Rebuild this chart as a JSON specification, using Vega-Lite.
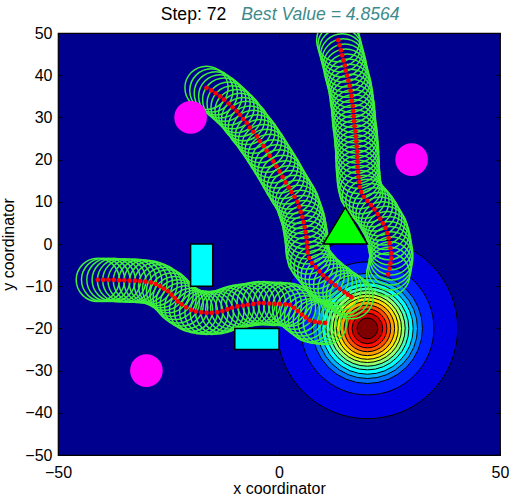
{
  "$schema": "https://vega.github.io/schema/vega-lite/v6.json",
  "width": 442,
  "height": 422,
  "autosize": {"type": "none"},
  "padding": {"left": 58, "top": 33, "right": 9, "bottom": 44},
  "background": "white",
  "config": {
    "view": {"stroke": "black", "strokeWidth": 1.2, "fill": "#00008F"},
    "axis": {"labelFont": "Liberation Sans", "labelFontSize": 16, "titleFont": "Liberation Sans", "titleFontSize": 16, "titleFontWeight": "normal", "labelColor": "black", "titleColor": "black", "tickColor": "black", "domain": false, "grid": false, "tickSize": -4, "labelFlush": false, "labelOverlap": false}
  },
  "datasets": {
    "contour": [
      {"level": 1, "x": 20, "y": -20, "r": 20.9},
      {"level": 2, "x": 20, "y": -20, "r": 15.4},
      {"level": 3, "x": 20, "y": -20, "r": 12.75},
      {"level": 4, "x": 20, "y": -20, "r": 11.6},
      {"level": 5, "x": 20, "y": -20, "r": 10.6},
      {"level": 6, "x": 20, "y": -20, "r": 9.6},
      {"level": 7, "x": 20, "y": -20, "r": 8.75},
      {"level": 8, "x": 20, "y": -20, "r": 7.9},
      {"level": 9, "x": 20, "y": -20, "r": 7.15},
      {"level": 10, "x": 20, "y": -20, "r": 6.3},
      {"level": 11, "x": 20, "y": -20, "r": 5.4},
      {"level": 12, "x": 20, "y": -20, "r": 4.5},
      {"level": 13, "x": 20, "y": -20, "r": 3.55},
      {"level": 14, "x": 20, "y": -20, "r": 2.4}
    ],
    "path": [
      {"robot": 1, "x": -41.0, "y": -8.5}, {"robot": 1, "x": -39.8, "y": -8.5}, {"robot": 1, "x": -38.6, "y": -8.5}, {"robot": 1, "x": -37.4, "y": -8.5},
      {"robot": 1, "x": -36.2, "y": -8.6}, {"robot": 1, "x": -35.0, "y": -8.6}, {"robot": 1, "x": -33.8, "y": -8.7}, {"robot": 1, "x": -32.6, "y": -8.7},
      {"robot": 1, "x": -31.4, "y": -8.8}, {"robot": 1, "x": -30.2, "y": -8.9}, {"robot": 1, "x": -29.0, "y": -9.1}, {"robot": 1, "x": -27.9, "y": -9.5},
      {"robot": 1, "x": -26.9, "y": -10.0}, {"robot": 1, "x": -26.0, "y": -10.6}, {"robot": 1, "x": -25.1, "y": -11.2}, {"robot": 1, "x": -24.3, "y": -12.0},
      {"robot": 1, "x": -23.6, "y": -12.8}, {"robot": 1, "x": -22.9, "y": -13.6}, {"robot": 1, "x": -22.0, "y": -14.3}, {"robot": 1, "x": -21.0, "y": -15.0},
      {"robot": 1, "x": -19.9, "y": -15.6}, {"robot": 1, "x": -18.8, "y": -16.0}, {"robot": 1, "x": -17.6, "y": -16.2}, {"robot": 1, "x": -16.4, "y": -16.3},
      {"robot": 1, "x": -15.2, "y": -16.3}, {"robot": 1, "x": -14.0, "y": -16.2}, {"robot": 1, "x": -12.8, "y": -15.9}, {"robot": 1, "x": -11.7, "y": -15.5},
      {"robot": 1, "x": -10.6, "y": -15.1}, {"robot": 1, "x": -9.4, "y": -14.8}, {"robot": 1, "x": -8.2, "y": -14.6}, {"robot": 1, "x": -7.0, "y": -14.4},
      {"robot": 1, "x": -5.8, "y": -14.2}, {"robot": 1, "x": -4.6, "y": -14.0}, {"robot": 1, "x": -3.4, "y": -14.0}, {"robot": 1, "x": -2.2, "y": -14.1},
      {"robot": 1, "x": -1.0, "y": -14.2}, {"robot": 1, "x": 0.2, "y": -14.2}, {"robot": 1, "x": 1.4, "y": -14.3}, {"robot": 1, "x": 2.5, "y": -14.4},
      {"robot": 1, "x": 3.4, "y": -15.1}, {"robot": 1, "x": 4.3, "y": -15.9}, {"robot": 1, "x": 5.2, "y": -16.7}, {"robot": 1, "x": 6.1, "y": -17.4},
      {"robot": 1, "x": 7.0, "y": -18.1}, {"robot": 1, "x": 8.1, "y": -18.4}, {"robot": 1, "x": 9.2, "y": -18.6}, {"robot": 1, "x": 10.4, "y": -18.7},
      {"robot": 2, "x": -16.4, "y": 37.0}, {"robot": 2, "x": -15.3, "y": 36.4}, {"robot": 2, "x": -14.3, "y": 35.7}, {"robot": 2, "x": -13.3, "y": 35.0},
      {"robot": 2, "x": -12.4, "y": 34.2}, {"robot": 2, "x": -11.4, "y": 33.3}, {"robot": 2, "x": -10.5, "y": 32.4}, {"robot": 2, "x": -9.6, "y": 31.5},
      {"robot": 2, "x": -8.8, "y": 30.6}, {"robot": 2, "x": -8.1, "y": 29.6}, {"robot": 2, "x": -7.3, "y": 28.7}, {"robot": 2, "x": -6.6, "y": 27.6},
      {"robot": 2, "x": -5.8, "y": 26.6}, {"robot": 2, "x": -5.0, "y": 25.5}, {"robot": 2, "x": -4.3, "y": 24.4}, {"robot": 2, "x": -3.5, "y": 23.2},
      {"robot": 2, "x": -2.8, "y": 22.1}, {"robot": 2, "x": -2.1, "y": 20.9}, {"robot": 2, "x": -1.3, "y": 19.6}, {"robot": 2, "x": -0.6, "y": 18.4},
      {"robot": 2, "x": 0.1, "y": 17.2}, {"robot": 2, "x": 0.8, "y": 15.9}, {"robot": 2, "x": 1.5, "y": 14.6}, {"robot": 2, "x": 2.2, "y": 13.4},
      {"robot": 2, "x": 2.8, "y": 12.3}, {"robot": 2, "x": 3.5, "y": 11.2}, {"robot": 2, "x": 4.1, "y": 10.0}, {"robot": 2, "x": 4.5, "y": 8.8},
      {"robot": 2, "x": 4.9, "y": 7.6}, {"robot": 2, "x": 5.3, "y": 6.4}, {"robot": 2, "x": 5.6, "y": 5.2}, {"robot": 2, "x": 5.8, "y": 4.0},
      {"robot": 2, "x": 6.0, "y": 2.8}, {"robot": 2, "x": 6.2, "y": 1.6}, {"robot": 2, "x": 6.3, "y": 0.4}, {"robot": 2, "x": 6.4, "y": -0.8},
      {"robot": 2, "x": 6.5, "y": -2.0}, {"robot": 2, "x": 6.8, "y": -3.3}, {"robot": 2, "x": 7.5, "y": -4.5}, {"robot": 2, "x": 8.3, "y": -5.5},
      {"robot": 2, "x": 9.1, "y": -6.5}, {"robot": 2, "x": 9.9, "y": -7.4}, {"robot": 2, "x": 10.8, "y": -8.2}, {"robot": 2, "x": 11.7, "y": -9.0},
      {"robot": 2, "x": 12.7, "y": -9.8}, {"robot": 2, "x": 13.7, "y": -10.6}, {"robot": 2, "x": 14.8, "y": -11.4}, {"robot": 2, "x": 15.6, "y": -12.0},
      {"robot": 2, "x": 16.4, "y": -12.6},
      {"robot": 3, "x": 13.4, "y": 48.3}, {"robot": 3, "x": 13.7, "y": 47.1}, {"robot": 3, "x": 14.0, "y": 45.9}, {"robot": 3, "x": 14.3, "y": 44.7},
      {"robot": 3, "x": 14.6, "y": 43.5}, {"robot": 3, "x": 14.9, "y": 42.3}, {"robot": 3, "x": 15.1, "y": 41.1}, {"robot": 3, "x": 15.4, "y": 39.9},
      {"robot": 3, "x": 15.7, "y": 38.7}, {"robot": 3, "x": 16.0, "y": 37.5}, {"robot": 3, "x": 16.2, "y": 36.3}, {"robot": 3, "x": 16.4, "y": 35.1},
      {"robot": 3, "x": 16.5, "y": 33.9}, {"robot": 3, "x": 16.7, "y": 32.7}, {"robot": 3, "x": 16.8, "y": 31.5}, {"robot": 3, "x": 16.9, "y": 30.3},
      {"robot": 3, "x": 17.0, "y": 29.1}, {"robot": 3, "x": 17.1, "y": 27.9}, {"robot": 3, "x": 17.3, "y": 26.7}, {"robot": 3, "x": 17.4, "y": 25.5},
      {"robot": 3, "x": 17.5, "y": 24.3}, {"robot": 3, "x": 17.6, "y": 23.1}, {"robot": 3, "x": 17.7, "y": 21.9}, {"robot": 3, "x": 17.7, "y": 20.7},
      {"robot": 3, "x": 17.8, "y": 19.5}, {"robot": 3, "x": 17.8, "y": 18.3}, {"robot": 3, "x": 17.9, "y": 17.1}, {"robot": 3, "x": 18.0, "y": 15.9},
      {"robot": 3, "x": 18.1, "y": 14.7}, {"robot": 3, "x": 18.3, "y": 13.5}, {"robot": 3, "x": 18.6, "y": 12.3}, {"robot": 3, "x": 19.2, "y": 11.2},
      {"robot": 3, "x": 20.0, "y": 10.2}, {"robot": 3, "x": 20.8, "y": 9.2}, {"robot": 3, "x": 21.6, "y": 8.2}, {"robot": 3, "x": 22.3, "y": 7.1},
      {"robot": 3, "x": 22.9, "y": 6.0}, {"robot": 3, "x": 23.5, "y": 4.9}, {"robot": 3, "x": 24.1, "y": 3.8}, {"robot": 3, "x": 24.5, "y": 2.6},
      {"robot": 3, "x": 24.8, "y": 1.4}, {"robot": 3, "x": 25.0, "y": 0.2}, {"robot": 3, "x": 25.2, "y": -1.0}, {"robot": 3, "x": 25.4, "y": -2.2},
      {"robot": 3, "x": 25.4, "y": -3.4}, {"robot": 3, "x": 25.2, "y": -4.6}, {"robot": 3, "x": 25.0, "y": -5.8}, {"robot": 3, "x": 24.7, "y": -7.2}
    ],
    "sources": [
      {"x": -20, "y": 30}, {"x": 30, "y": 20}, {"x": -30, "y": -30}
    ],
    "walls": [
      {"x1": -20, "x2": -15, "y1": -10, "y2": 0},
      {"x1": -10, "x2": 0, "y1": -25, "y2": -20}
    ],
    "triangle": [
      {"x": 10, "y": 0}, {"x": 15, "y": 8.66}, {"x": 20, "y": 0}
    ]
  },
  "resolve": {"axis": {"x": "independent", "y": "independent"}},
  "layer": [
    {
      "data": {"name": "contour"},
      "mark": {"type": "point", "shape": "circle", "filled": true, "stroke": "black", "strokeWidth": 1, "opacity": 1},
      "encoding": {
        "x": {"field": "x", "type": "quantitative", "scale": {"domain": [-50, 50], "nice": false, "zero": false},
              "axis": {"orient": "bottom", "values": [-50, 0, 50], "labelPadding": 13, "title": "x coordinator", "titlePadding": 0}},
        "y": {"field": "y", "type": "quantitative", "scale": {"domain": [-50, 50], "nice": false, "zero": false},
              "axis": {"orient": "left", "values": [-50, -40, -30, -20, -10, 0, 10, 20, 30, 40, 50], "labelPadding": 10, "title": "y coordinator", "titlePadding": 8}},
        "size": {"field": "r", "type": "quantitative", "scale": {"type": "pow", "exponent": 2, "domain": [0, 20.9], "range": [0, 32608]}, "legend": null},
        "color": {"field": "level", "type": "ordinal", "scale": {"domain": [1,2,3,4,5,6,7,8,9,10,11,12,13,14], "range": ["#0000DF","#0020FF","#0070FF","#00AFFF","#00FFFF","#40FFBF","#8FFF70","#CFFF30","#FFDF00","#FF9F00","#FF5000","#FF1000","#BF0000","#800000"]}, "legend": null},
        "order": {"field": "level", "type": "quantitative", "sort": "ascending"}
      }
    },
    {
      "data": {"name": "path"},
      "mark": {"type": "point", "shape": "circle", "filled": false, "stroke": "#3CF03C", "strokeWidth": 1.5, "size": 1866, "opacity": 1, "clip": true},
      "encoding": {
        "x": {"field": "x", "type": "quantitative",
              "axis": {"orient": "top", "values": [-50, 0, 50], "labels": false, "title": "Step: 72", "titleFontSize": 17.6, "titleX": 135, "titleY": -14, "titleAlign": "center", "titleBaseline": "alphabetic", "titleAngle": 0}},
        "y": {"field": "y", "type": "quantitative",
              "axis": {"orient": "right", "values": [-50, -40, -30, -20, -10, 0, 10, 20, 30, 40, 50], "labels": false, "title": "Best Value = 4.8564", "titleFontStyle": "italic", "titleColor": "#3D8B8B", "titleFontSize": 17.6, "titleX": -180, "titleY": -14, "titleAlign": "center", "titleBaseline": "alphabetic", "titleAngle": 0}}
      }
    },
    {
      "data": {"name": "path"},
      "mark": {"type": "point", "shape": "circle", "filled": true, "color": "#FF0000", "size": 22, "opacity": 1, "clip": true},
      "encoding": {
        "x": {"field": "x", "type": "quantitative", "axis": null},
        "y": {"field": "y", "type": "quantitative", "axis": null}
      }
    },
    {
      "data": {"name": "walls"},
      "mark": {"type": "rect", "fill": "#00FFFF", "stroke": "black", "strokeWidth": 1.5},
      "encoding": {
        "x": {"field": "x1", "type": "quantitative", "axis": null},
        "x2": {"field": "x2"},
        "y": {"field": "y1", "type": "quantitative", "axis": null},
        "y2": {"field": "y2"}
      }
    },
    {
      "data": {"name": "sources"},
      "mark": {"type": "point", "shape": "circle", "filled": true, "color": "#FF00FF", "size": 1063, "opacity": 1},
      "encoding": {
        "x": {"field": "x", "type": "quantitative", "axis": null},
        "y": {"field": "y", "type": "quantitative", "axis": null}
      }
    },
    {
      "data": {"name": "triangle"},
      "mark": {"type": "area", "fill": "#00FF00", "stroke": "black", "strokeWidth": 1.5, "opacity": 1, "fillOpacity": 1},
      "encoding": {
        "x": {"field": "x", "type": "quantitative", "axis": null},
        "y": {"field": "y", "type": "quantitative", "axis": null},
        "y2": {"datum": 0}
      }
    }
  ]
}
